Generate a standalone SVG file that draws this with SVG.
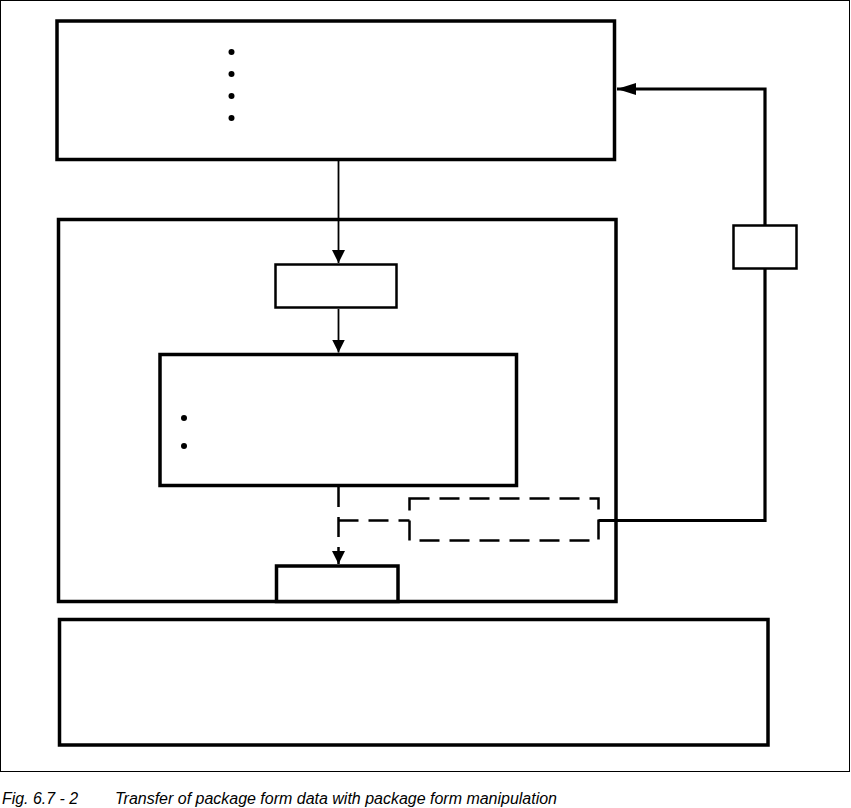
<svg xmlns="http://www.w3.org/2000/svg" width="851" height="808" viewBox="0 0 851 808">
<style>
.box{fill:#fff;stroke:#000;stroke-width:3.5}
.sbox{fill:#fff;stroke:#000;stroke-width:2.5}
.dash{fill:none;stroke:#000;stroke-width:2.5;stroke-dasharray:20 10}
.thin{fill:none;stroke:#000;stroke-width:1.8}
.thick{fill:none;stroke:#000;stroke-width:3.2}
.cap{font-family:"Liberation Sans",Arial,sans-serif;font-style:italic;font-size:16px;fill:#000}
</style>
<defs>
<marker id="ah" viewBox="0 0 13 13" refX="13" refY="6.5" markerWidth="13" markerHeight="13" markerUnits="userSpaceOnUse" orient="auto">
<path d="M0,0 L13,6.5 L0,13 Z" fill="#000"/>
</marker>
<marker id="ahb" viewBox="0 0 19 12" refX="19" refY="6" markerWidth="19" markerHeight="12" markerUnits="userSpaceOnUse" orient="auto">
<path d="M0,0 L19,6 L0,12 Z" fill="#000"/>
</marker>
</defs>
<rect x="0.5" y="0.5" width="849" height="771" fill="#fff" stroke="#000" stroke-width="1"/>
<g id="top">
<rect class="box" x="57" y="21" width="557.5" height="138.5"/>
<circle cx="231.5" cy="52" r="3"/>
<circle cx="231.5" cy="74" r="3"/>
<circle cx="231.5" cy="96" r="3"/>
<circle cx="231.5" cy="118" r="3"/>
</g>
<g id="large">
<rect class="box" x="58.5" y="219.5" width="557.5" height="382"/>
</g>
<g id="small1">
<rect class="sbox" x="275.5" y="264.5" width="121" height="43"/>
</g>
<g id="middle">
<rect class="box" x="160" y="354.5" width="356.5" height="131"/>
<circle cx="184" cy="418" r="3"/>
<circle cx="184" cy="446" r="3"/>
</g>
<g id="dashbox">
<rect class="dash" x="409.5" y="498.5" width="189" height="42"/>
</g>
<g id="small2">
<rect class="box" x="276.5" y="566" width="121.5" height="35.5"/>
</g>
<g id="sidebox">
<rect class="sbox" x="733.5" y="225.5" width="63" height="43"/>
</g>
<g id="bottom">
<rect class="box" x="59.5" y="619.5" width="708.5" height="125.5"/>
</g>
<g id="connectors">
<line class="thin" x1="338.5" y1="161" x2="338.5" y2="263" marker-end="url(#ah)"/>
<line class="thin" x1="338.5" y1="309" x2="338.5" y2="352.5" marker-end="url(#ah)"/>
<line class="dash" x1="338.5" y1="487" x2="338.5" y2="564" stroke-dasharray="14 6 20 8 20 6" marker-end="url(#ah)"/>
<line class="dash" x1="338.5" y1="520.5" x2="409.5" y2="520.5" stroke-dasharray="9 10 20 10"/>
<polyline class="thick" points="598.5,520.5 765,520.5 765,269"/>
<polyline class="thick" points="765,225 765,89 617,89" marker-end="url(#ahb)"/>
</g>
<text class="cap" x="2" y="804" textLength="76" lengthAdjust="spacingAndGlyphs">Fig. 6.7 - 2</text>
<text class="cap" x="115" y="804" textLength="442" lengthAdjust="spacingAndGlyphs">Transfer of package form data with package form manipulation</text>
</svg>
